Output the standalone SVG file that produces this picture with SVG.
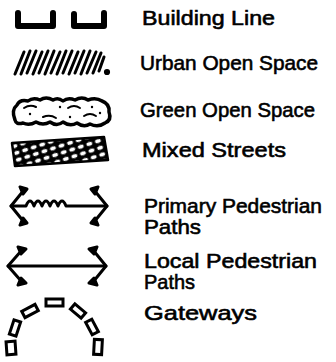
<svg xmlns="http://www.w3.org/2000/svg" width="336" height="362" viewBox="0 0 336 362">
<defs>
<style>
.ink{stroke:#000;fill:none;stroke-linecap:round;stroke-linejoin:round}
.lbl{font-family:"Liberation Sans",Arial,sans-serif;font-size:21px;fill:#000;stroke:#000;stroke-width:0.6}
.gate{stroke:#000;stroke-width:3;fill:#fff}
</style>
<pattern id="xh" patternUnits="userSpaceOnUse" width="9" height="7" patternTransform="rotate(-18)">
<rect width="9" height="7" fill="#000"/>
<ellipse cx="4.5" cy="3.5" rx="3" ry="1.9" fill="#fff"/>
</pattern>
</defs>
<rect width="336" height="362" fill="#fff"/>

<g id="building-line">
<path class="ink" stroke-width="6" d="M18,13 V26 H53 V13"/>
<path class="ink" stroke-width="6" d="M74,14 V26 H104 V13"/>
</g>

<g id="urban-open-space" class="ink" stroke-width="3">
<path d="M15,74 L24,52 M21,74 L30,51 M27,73 L36,51 M33,74 L42,52 M39,73 L48,51 M45,74 L54,51 M51,73 L60,52 M57,74 L66,51 M63,73 L72,51 M69,74 L78,52 M75,73 L84,51 M81,74 L90,51 M87,73 L96,52 M93,73 L101,53 M99,71 L104,57"/>
<circle cx="107" cy="72" r="1.6" fill="#000"/>
</g>

<g id="green-open-space">
<path class="ink" stroke-width="3.5" d="M15,120 Q11,110 17,105 Q20,99 28,101 Q33,97 40,100 Q46,96 53,100 Q58,97 63,101 Q68,97 75,100 Q82,96 88,100 Q96,97 102,101 Q110,104 109,112 Q112,120 105,123 Q98,128 90,124 Q84,128 77,123 Q70,127 63,122 Q57,127 50,122 Q43,126 36,122 Q29,126 23,123 Q16,125 15,120 Z"/>
<path class="ink" stroke-width="2" d="M24,108 Q30,104 36,107 M68,108 Q74,104 80,108 M43,117 Q50,114 56,118 M84,116 Q90,112 96,116"/>
<g fill="#000"><circle cx="30" cy="114" r="1.2"/><circle cx="60" cy="107" r="1.2"/><circle cx="92" cy="107" r="1.2"/><circle cx="70" cy="117" r="1.2"/><circle cx="100" cy="113" r="1.2"/></g>
</g>

<g id="mixed-streets">
<path d="M12,143 L104,137 L108,160 L15,166 Z" fill="url(#xh)" stroke="#000" stroke-width="2.5" stroke-linejoin="round"/>
</g>

<g id="connectors">
<g id="primary-arrow" class="ink" stroke-width="3">
<path d="M24,190 L11,206 L24,222"/>
<path d="M11,206 H26 q4,-10 8,0 q4,-10 8,0 q4,-10 8,0 q4,-10 8,0 q4,-10 8,0 H107"/>
<path d="M94,190 L107,206 L94,222"/>
<path d="M20,187 L27,189 L23,194 Z M20,225 L27,223 L23,218 Z M98,187 L91,189 L95,194 Z M98,225 L91,223 L95,218 Z" fill="#000"/>
</g>
<g id="local-arrow" class="ink" stroke-width="3">
<path d="M8,266 H106"/>
<path d="M22,250 L8,266 L22,282"/>
<path d="M93,250 L106,266 L93,282"/>
<path d="M18,247 L26,249 L21,254 Z M18,285 L26,283 L21,278 Z M97,247 L89,249 L94,254 Z M97,285 L89,283 L94,278 Z" fill="#000"/>
</g>
</g>

<g id="gateways">
<rect class="gate" x="46" y="299" width="17" height="7"/>
<rect class="gate" x="-7.5" y="-3.5" width="15" height="7" transform="translate(30,311) rotate(-28)"/>
<rect class="gate" x="-7.5" y="-3.5" width="15" height="7" transform="translate(15,328) rotate(-72)"/>
<rect class="gate" x="-4.5" y="-6.5" width="9" height="13" transform="translate(11,348) rotate(-4)"/>
<rect class="gate" x="-7" y="-3.5" width="14" height="7" transform="translate(78,311) rotate(40)"/>
<rect class="gate" x="-7" y="-3.5" width="14" height="7" transform="translate(92,327) rotate(62)"/>
<rect class="gate" x="-4" y="-7.5" width="8" height="15" transform="translate(98,347) rotate(3)"/>
</g>

<g id="labels">
<text class="lbl" x="142" y="25" textLength="133" lengthAdjust="spacingAndGlyphs">Building Line</text>
<text class="lbl" x="140" y="70" textLength="178" lengthAdjust="spacingAndGlyphs">Urban Open Space</text>
<text class="lbl" x="140" y="117" textLength="175" lengthAdjust="spacingAndGlyphs">Green Open Space</text>
<text class="lbl" x="142" y="157" textLength="144" lengthAdjust="spacingAndGlyphs">Mixed Streets</text>
<text class="lbl" x="144" y="213" textLength="178" lengthAdjust="spacingAndGlyphs">Primary Pedestrian</text>
<text class="lbl" x="144" y="234" textLength="57" lengthAdjust="spacingAndGlyphs">Paths</text>
<text class="lbl" x="144" y="268" textLength="173" lengthAdjust="spacingAndGlyphs">Local Pedestrian</text>
<text class="lbl" x="144" y="289" textLength="51" lengthAdjust="spacingAndGlyphs">Paths</text>
<text class="lbl" x="144" y="320" textLength="113" lengthAdjust="spacingAndGlyphs">Gateways</text>
</g>
</svg>
